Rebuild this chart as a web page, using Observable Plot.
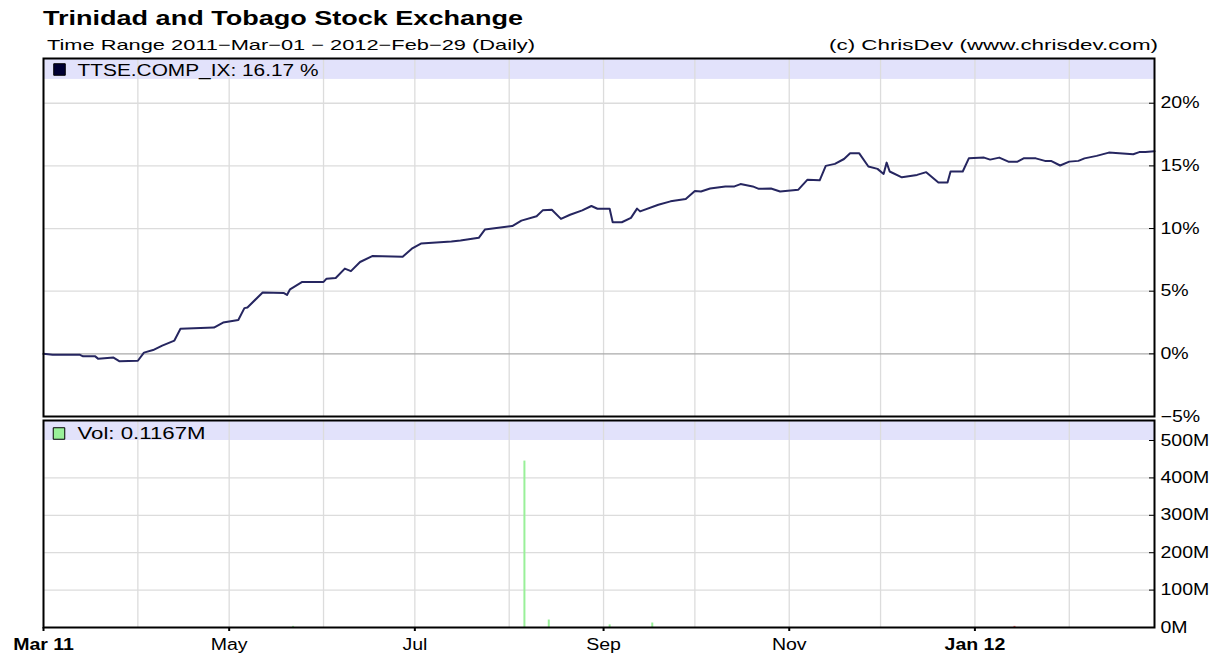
<!DOCTYPE html>
<html><head><meta charset="utf-8">
<script src="https://cdn.jsdelivr.net/npm/d3@7"></script>
<script src="https://cdn.jsdelivr.net/npm/@observablehq/plot@0.6"></script>
<style>
html,body{margin:0;padding:0;background:#fff}
body{width:1227px;height:656px;overflow:hidden;position:relative;font-family:"Liberation Sans",Arial,sans-serif}
#top{position:absolute;left:0;top:52px}
#bot{position:absolute;left:0;top:418px}
#head{position:absolute;left:0;top:0}
</style></head><body>
<div id="top"></div>
<div id="bot"></div>
<svg id="head" width="1227" height="56" font-family="Liberation Sans, Arial, sans-serif">
  <text x="43" y="25" font-weight="bold" font-size="20" textLength="480" lengthAdjust="spacingAndGlyphs">Trinidad and Tobago Stock Exchange</text>
  <text x="47" y="50" font-size="15" textLength="488" lengthAdjust="spacingAndGlyphs">Time Range 2011−Mar−01 − 2012−Feb−29 (Daily)</text>
  <text x="1158" y="50" font-size="15" text-anchor="end" textLength="329" lengthAdjust="spacingAndGlyphs">(c) ChrisDev (www.chrisdev.com)</text>
</svg>
<script>
// ---- data ----
const dates = ["2011-03-01","2011-03-04","2011-03-13","2011-03-14","2011-03-18","2011-03-19","2011-03-24","2011-03-26","2011-04-01","2011-04-03",
"2011-04-06","2011-04-09","2011-04-13","2011-04-15","2011-04-26","2011-04-29","2011-05-04","2011-05-06","2011-05-07","2011-05-12",
"2011-05-19","2011-05-20","2011-05-21","2011-05-25","2011-06-01","2011-06-02","2011-06-05","2011-06-08","2011-06-10","2011-06-13",
"2011-06-17","2011-06-27","2011-06-30","2011-07-03","2011-07-13","2011-07-16","2011-07-22","2011-07-24","2011-08-02","2011-08-05",
"2011-08-10","2011-08-12","2011-08-15","2011-08-18","2011-08-21","2011-08-25","2011-08-28","2011-08-30","2011-09-03","2011-09-04",
"2011-09-07","2011-09-10","2011-09-12","2011-09-13","2011-09-19","2011-09-23","2011-09-28","2011-10-01","2011-10-03","2011-10-06",
"2011-10-11","2011-10-14","2011-10-16","2011-10-20","2011-10-22","2011-10-26","2011-10-29","2011-11-04","2011-11-07","2011-11-11",
"2011-11-13","2011-11-16","2011-11-19","2011-11-21","2011-11-24","2011-11-27","2011-11-30","2011-12-02","2011-12-03","2011-12-04",
"2011-12-08","2011-12-13","2011-12-16","2011-12-20","2011-12-23","2011-12-24","2011-12-28","2011-12-30","2012-01-04","2012-01-06",
"2012-01-09","2012-01-12","2012-01-15","2012-01-17","2012-01-21","2012-01-24","2012-01-26","2012-01-29","2012-02-01","2012-02-04",
"2012-02-06","2012-02-10","2012-02-14","2012-02-22","2012-02-24","2012-02-26","2012-02-29"];
const values = [0,-0.08,-0.08,-0.2,-0.2,-0.4,-0.3,-0.6,-0.55,0.1,
0.3,0.66,1.06,2.0,2.1,2.5,2.7,3.65,3.7,4.9,
4.85,4.7,5.15,5.74,5.74,6.0,6.05,6.8,6.6,7.33,
7.8,7.75,8.39,8.8,8.97,9.05,9.26,9.92,10.2,10.63,
10.98,11.45,11.5,10.77,11.1,11.45,11.8,11.58,11.58,10.5,
10.5,10.85,11.59,11.37,11.9,12.17,12.35,13.0,12.96,13.2,
13.36,13.36,13.55,13.36,13.17,13.2,12.96,13.1,13.9,13.85,
15.0,15.16,15.55,16.0,16.0,14.95,14.76,14.36,15.26,14.55,
14.09,14.28,14.5,13.68,13.68,14.55,14.55,15.6,15.66,15.5,
15.66,15.34,15.34,15.6,15.6,15.4,15.4,15.03,15.34,15.4,
15.6,15.8,16.06,15.93,16.1,16.1,16.17];
const volDates = ["2011-05-22","2011-08-06","2011-08-14","2011-09-03","2011-09-17","2012-01-14"];
const volValues = [3,445,20,7,12,3];
const volDirection = ["up","up","up","up","up","down"];
const pctTicks = [-5,0,5,10,15,20];
const volTicks = [0,100,200,300,400,500];
const monthLabels = ["Mar 11","May","Jul","Sep","Nov","Jan 12"];
const monthLabelDates = ["2011-03-01","2011-05-01","2011-07-01","2011-09-01","2011-11-01","2012-01-01"];
const boldLabels = ["Mar 11","Jan 12"];
const seriesName = "TTSE.COMP_IX: 16.17 %";
const volName = "Vol: 0.1167M";

// ---- derived tables ----
const series = dates.map((d,i)=>({date:new Date(d), value:values[i]}));
const vol = volDates.map((d,i)=>({date:new Date(d), value:volValues[i], dir:volDirection[i]}));
const labels = monthLabels.map((l,i)=>({date:new Date(monthLabelDates[i]), label:l}));
const xDomain = [new Date("2011-03-01"), new Date("2012-02-29")];
const months = d3.utcMonth.range(new Date("2011-03-01"), new Date("2012-03-01"));
const fmtPct = d => (d<0?"−":"") + Math.abs(d) + "%";
const LINE = "#262660", GRID = "#dcdcdc", BAND = "#e2e2fb", VOLUP = "#99f099", VOLDN = "#ff6666";
const common = {width:1227, marginLeft:43, marginRight:73,
  style:{background:"transparent", overflow:"visible", fontFamily:"Liberation Sans, Arial, sans-serif", fontSize:"15px", color:"#000"}};

const topChart = Plot.plot({
  ...common, height:366, marginTop:6, marginBottom:2,
  x:{type:"utc", domain:xDomain, axis:null},
  y:{domain:[-5,23.57], axis:null},
  marks:[
    Plot.rect([0],{x1:()=>xDomain[0], x2:()=>xDomain[1], y1:()=>21.9, y2:()=>23.57, fill:BAND}),
    Plot.gridX(months,{stroke:GRID, strokeOpacity:1, strokeWidth:1.3}),
    Plot.gridY([5,10,15,20],{stroke:GRID, strokeOpacity:1, strokeWidth:1.3}),
    Plot.ruleY([0],{stroke:"#aaaaaa", strokeWidth:1.3}),
    Plot.line(series,{x:"date", y:"value", stroke:LINE, strokeWidth:2}),
    Plot.frame({stroke:"#000", strokeWidth:2}),
    Plot.axisY({anchor:"right", label:null, ticks:pctTicks, tickFormat:fmtPct, tickSize:-6, tickPadding:12, fontSize:16}),
    Plot.dot([0],{frameAnchor:"top-left", dx:16, dy:11, symbol:"square", r:6.5, fill:"#000033", stroke:"#000", strokeWidth:1}),
    Plot.text([seriesName],{frameAnchor:"top-left", dx:34, dy:12, textAnchor:"start", lineAnchor:"middle", fontSize:16, fill:"#000"})
  ]
});
document.getElementById("top").appendChild(topChart);

const botChart = Plot.plot({
  ...common, height:238, marginTop:2, marginBottom:29,
  x:{type:"utc", domain:xDomain, axis:null},
  y:{domain:[0,553.5], axis:null},
  marks:[
    Plot.rect([0],{x1:()=>xDomain[0], x2:()=>xDomain[1], y1:()=>500, y2:()=>553.5, fill:BAND}),
    Plot.gridX(months,{stroke:GRID, strokeOpacity:1, strokeWidth:1.3}),
    Plot.gridY([100,200,300,400],{stroke:GRID, strokeOpacity:1, strokeWidth:1.3}),
    Plot.ruleX(vol.filter(d=>d.dir==="up"),{x:"date", y1:0, y2:"value", stroke:VOLUP, strokeWidth:2}),
    Plot.ruleX(vol.filter(d=>d.dir==="down"),{x:"date", y1:0, y2:"value", stroke:VOLDN, strokeWidth:2}),
    Plot.frame({stroke:"#000", strokeWidth:2}),
    Plot.axisY({anchor:"right", label:null, ticks:volTicks, tickFormat:d=>d+"M", tickSize:-6, tickPadding:12, fontSize:16}),
    Plot.axisX({anchor:"bottom", label:null, ticks:labels.map(d=>d.date), tickFormat:()=>"", tickSize:4, stroke:"#000", strokeWidth:2}),
    Plot.text(labels.filter(d=>!boldLabels.includes(d.label)),{x:"date", text:"label", frameAnchor:"bottom", dy:22, fontSize:16, fill:"#000"}),
    Plot.text(labels.filter(d=>boldLabels.includes(d.label)),{x:"date", text:"label", frameAnchor:"bottom", dy:22, fontSize:16, fontWeight:"bold", fill:"#000"}),
    Plot.dot([0],{frameAnchor:"top-left", dx:15.5, dy:13, symbol:"square", r:6.5, fill:VOLUP, stroke:"#000", strokeWidth:1}),
    Plot.text([volName],{frameAnchor:"top-left", dx:34, dy:13, textAnchor:"start", lineAnchor:"middle", fontSize:16, fill:"#000"})
  ]
});
document.getElementById("bot").appendChild(botChart);

function stretch(root,k){
  root.querySelectorAll("text").forEach(t=>{
    if (t.hasAttribute("textLength")) return;
    const s = t.textContent;
    let target = null;
    if (s === seriesName) target = 241;
    else if (s === volName) target = 128;
    const L = t.getComputedTextLength();
    if (L>0){ t.setAttribute("textLength", target ?? L*k); t.setAttribute("lengthAdjust","spacingAndGlyphs"); }
  });
}
stretch(topChart,1.22);
stretch(botChart,1.22);
</script>
</body></html>
